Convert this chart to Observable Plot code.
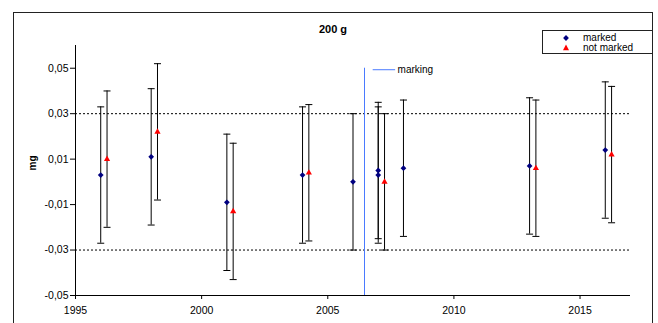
<!DOCTYPE html>
<html>
<head>
<meta charset="utf-8">
<script src="https://cdn.jsdelivr.net/npm/d3@7"></script>
<script src="https://cdn.jsdelivr.net/npm/@observablehq/plot@0.6"></script>
<style>
  html, body { margin: 0; padding: 0; background: #fff; overflow: hidden; }
  body { width: 658px; height: 323px; position: relative; font-family: "Liberation Sans", Arial, sans-serif; }
  #frame { position: absolute; left: 13px; top: 12px; width: 638px; height: 400px; border: 1px solid #222; pointer-events: none; }
  #title { position: absolute; left: 0; top: 23px; width: 666px; text-align: center; font-weight: bold; font-size: 11px; line-height: 13px; }
  #legend { position: absolute; left: 542px; top: 30px; width: 109px; height: 22px; border: 1px solid #222; background: #fff; font-size: 10px; line-height: 10px; }
  #legend .row { position: absolute; left: 0; height: 10px; }
  #legend svg { position: absolute; left: 17px; top: 0; }
  #legend span { position: absolute; left: 40px; top: 0; white-space: nowrap; }
</style>
</head>
<body>
<div id="chart"></div>
<div id="frame"></div>
<div id="title"></div>
<div id="legend"></div>
<script>
// ---- data ----
const chartTitle = "200 g";
const yLabel = "mg";
const seriesNames = ["marked", "not marked"];

const markedYears  = [1996, 1998, 2001, 2004, 2006, 2007, 2007, 2008, 2013, 2016];
const markedValues = [0.003, 0.011, -0.009, 0.003, 0.000, 0.005, 0.003, 0.006, 0.007, 0.014];
const markedUnc    = [0.03, 0.03, 0.03, 0.03, 0.03, 0.03, 0.03, 0.03, 0.03, 0.03];

const notMarkedYears  = [1996.25, 1998.25, 2001.25, 2004.25, 2007.25, 2013.25, 2016.25];
const notMarkedValues = [0.010, 0.022, -0.013, 0.004, 0.000, 0.006, 0.012];
const notMarkedUnc    = [0.03, 0.03, 0.03, 0.03, 0.03, 0.03, 0.03];

const limitLines = [-0.03, 0.03];
const markingYear = 2006.5;
const markingTop = 0.05;
const markingLabel = "marking";

const xTicks = [1995, 2000, 2005, 2010, 2015];
const yTicks = [-0.05, -0.03, -0.01, 0.01, 0.03, 0.05];
const xDomain = [1995, 2017];
const yDomain = [-0.05, 0.06];

// ---- build tables ----
const marked = markedYears.map((x, i) => ({x, y: markedValues[i], lo: markedValues[i] - markedUnc[i], hi: markedValues[i] + markedUnc[i]}));
const notMarked = notMarkedYears.map((x, i) => ({x, y: notMarkedValues[i], lo: notMarkedValues[i] - notMarkedUnc[i], hi: notMarkedValues[i] + notMarkedUnc[i]}));
const allPts = marked.concat(notMarked);
const caps = allPts.flatMap(d => [{x: d.x, y: d.lo}, {x: d.x, y: d.hi}]);

const capSymbol = { draw(ctx) { ctx.moveTo(-3.5, 0); ctx.lineTo(3.5, 0); } };

const BLUE = "#000080", RED = "#ff0000", MARK = "#4a7aff";

const plot = Plot.plot({
  width: 658,
  height: 323,
  marginLeft: 75,
  marginRight: 28,
  marginTop: 45,
  marginBottom: 28,
  style: { fontFamily: "'Liberation Sans', Arial, sans-serif", fontSize: "10.5px", background: "transparent", color: "#000", overflow: "visible" },
  x: { domain: xDomain, ticks: xTicks, tickFormat: "d", tickSize: 4, tickPadding: 7, label: null },
  y: { domain: yDomain, ticks: yTicks, tickFormat: d => d.toFixed(2).replace(".", ","), tickSize: 5, tickPadding: 2, label: null },
  marks: [
    Plot.ruleY(limitLines, { stroke: "#000", strokeDasharray: "2,2", strokeWidth: 1 }),
    Plot.ruleX([markingYear], { y1: yDomain[0], y2: markingTop, dx: -1.1, stroke: MARK, strokeWidth: 1 }),
    Plot.ruleY([markingTop], { x1: markingYear + 0.3, x2: markingYear + 1.19, dy: 1.5, stroke: MARK, strokeWidth: 1 }),
    Plot.text([markingLabel], { x: markingYear, y: markingTop, text: d => d, dx: 32, dy: 2, textAnchor: "start", fill: "#000", fontSize: 10 }),
    Plot.ruleX([xDomain[0]], { y1: yDomain[0], y2: yDomain[1], stroke: "#000" }),
    Plot.ruleY([yDomain[0]], { x1: xDomain[0], x2: xDomain[1], stroke: "#000" }),
    Plot.ruleX(allPts, { x: "x", y1: "lo", y2: "hi", stroke: "#000", strokeWidth: 1 }),
    Plot.dot(caps, { x: "x", y: "y", symbol: capSymbol, stroke: "#000", fill: "none", strokeWidth: 1 }),
    Plot.dot(marked, { x: "x", y: "y", symbol: "diamond2", r: 2.6, fill: BLUE, stroke: "none" }),
    Plot.dot(notMarked, { x: "x", y: "y", symbol: "triangle", r: 2.3, fill: RED, stroke: "none" }),
    Plot.text([yLabel], { frameAnchor: "left", text: d => d, rotate: -90, dx: -43, fontWeight: "bold", fontSize: 10, fill: "#000" })
  ]
});
document.getElementById("chart").appendChild(plot);

document.getElementById("title").textContent = chartTitle;

const legend = document.getElementById("legend");
const legendSymbols = [
  `<svg width="12" height="10" viewBox="-6 -5 12 10"><path d="M0,-2.9L2.9,0L0,2.9L-2.9,0Z" fill="${BLUE}"/></svg>`,
  `<svg width="12" height="10" viewBox="-6 -5 12 10"><path d="M0,-3.4L3,2.2L-3,2.2Z" fill="${RED}"/></svg>`
];
seriesNames.forEach((name, i) => {
  const row = document.createElement("div");
  row.className = "row";
  row.style.top = (2 + i * 10) + "px";
  row.style.width = "109px";
  row.innerHTML = legendSymbols[i] + `<span>${name}</span>`;
  legend.appendChild(row);
});
</script>
</body>
</html>
